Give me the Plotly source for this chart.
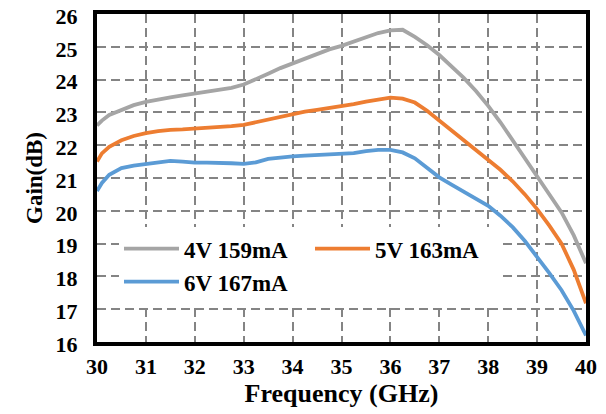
import plotly.graph_objects as go

freq = [30, 30.1, 30.25, 30.5, 30.75, 31, 31.25, 31.5, 31.75, 32, 32.25, 32.5, 32.75,
        33, 33.25, 33.5, 33.75, 34, 34.25, 34.5, 34.75, 35, 35.25, 35.5, 35.75,
        36, 36.25, 36.5, 36.75, 37, 37.25, 37.5, 37.75, 38, 38.25, 38.5, 38.75,
        39, 39.25, 39.5, 39.75, 40]

gain_4v = [22.6, 22.75, 22.92, 23.08, 23.22, 23.32, 23.4, 23.46, 23.52, 23.58, 23.63, 23.68, 23.75,
           23.85, 24.0, 24.18, 24.35, 24.5, 24.65, 24.8, 24.92, 25.03, 25.15, 25.3, 25.42,
           25.5, 25.52, 25.3, 25.05, 24.75, 24.4, 24.05, 23.65, 23.2, 22.7, 22.15, 21.6,
           21.0, 20.5, 19.95, 19.25, 18.4]

gain_5v = [21.5, 21.75, 21.95, 22.15, 22.28, 22.37, 22.43, 22.47, 22.48, 22.5, 22.52, 22.55, 22.58,
           22.62, 22.7, 22.8, 22.88, 22.95, 23.02, 23.08, 23.13, 23.18, 23.25, 23.33, 23.4,
           23.45, 23.42, 23.3, 23.05, 22.75, 22.45, 22.13, 21.85, 21.55, 21.25, 20.9, 20.5,
           20.05, 19.55, 19.0, 18.2, 17.18]

gain_6v = [20.6, 20.85, 21.1, 21.3, 21.38, 21.42, 21.48, 21.52, 21.5, 21.47, 21.47, 21.47, 21.45,
           21.43, 21.48, 21.58, 21.63, 21.66, 21.68, 21.7, 21.7, 21.72, 21.76, 21.82, 21.86,
           21.86, 21.78, 21.6, 21.32, 21.02, 20.8, 20.58, 20.38, 20.15, 19.85, 19.5, 19.08,
           18.6, 18.1, 17.58, 16.95, 16.2]

series_names = ["4V 159mA", "5V 163mA", "6V 167mA"]
series_colors = ["#A5A5A5", "#ED7D31", "#5B9BD5"]

FONT = "Liberation Serif"

fig = go.Figure()
for name, vals, col in zip(series_names, [gain_4v, gain_5v, gain_6v], series_colors):
    fig.add_trace(go.Scatter(x=freq, y=vals, mode="lines", name=name,
                             line=dict(color=col, width=3.8)))

axis_common = dict(
    showline=True, linewidth=4, linecolor="black", mirror=True,
    showgrid=True, gridcolor="#848484", gridwidth=1.5, griddash="9px,5px",
    zeroline=False, ticks="", automargin=False, ticklabeloverflow="allow",
    tickfont=dict(family=FONT, size=22, color="black", weight="bold"),
)

fig.update_xaxes(range=[30, 40], dtick=1, tick0=30, ticklabelstandoff=2,
                 title=dict(text="Frequency (GHz)", standoff=4,
                            font=dict(family=FONT, size=26, color="black", weight="bold")),
                 **axis_common)
fig.update_yaxes(range=[16, 26], dtick=1, tick0=16, ticklabelstandoff=11, ticklabelshift=2,
                 title=dict(text="Gain(dB)", standoff=8,
                            font=dict(family=FONT, size=23, color="black", weight="bold")),
                 **axis_common)

legend_font = dict(family=FONT, size=23, color="black", weight="bold")
fig.update_layout(
    width=598, height=406,
    margin=dict(l=89, r=20, t=6, b=72),
    paper_bgcolor="white", plot_bgcolor="white",
    showlegend=True,
    legend=dict(orientation="h", x=0.045, y=0.35, xanchor="left", yanchor="top",
                bgcolor="white", entrywidth=121, itemwidth=55, font=legend_font),
)

fig.write_html("out.html")
